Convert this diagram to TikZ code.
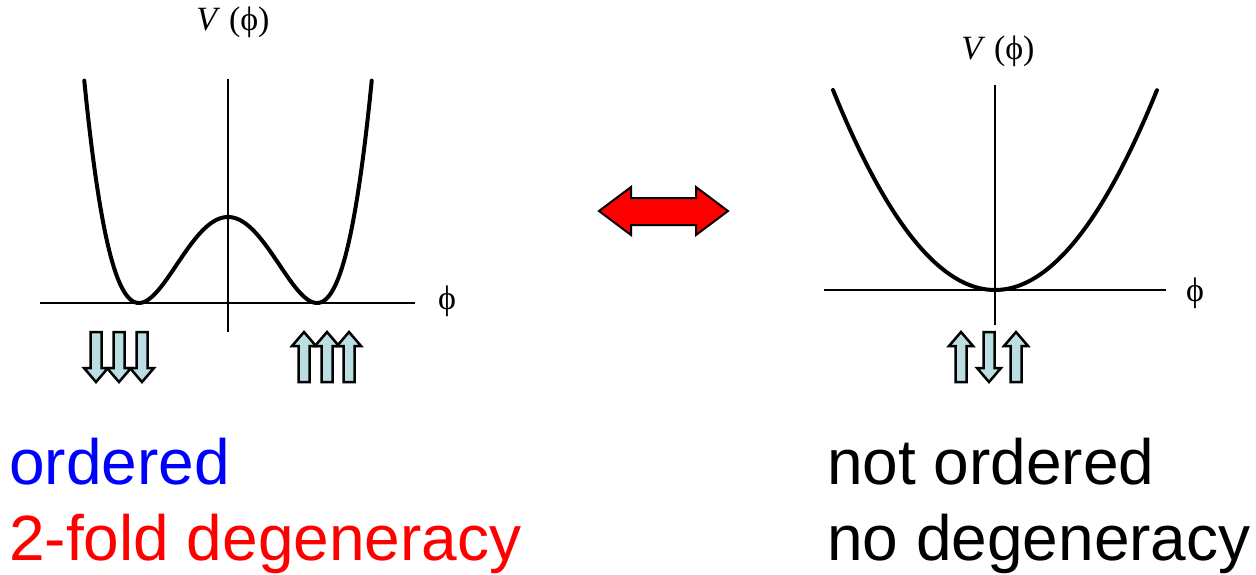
\documentclass[tikz,border=0pt]{standalone}
\usepackage{fontspec}
\setmainfont{Liberation Sans}
\newfontfamily\timesf{Liberation Serif}
\definecolor{spinfill}{RGB}{186,222,226}
\definecolor{pureblue}{RGB}{0,0,255}
\definecolor{purered}{RGB}{255,0,0}
\tikzset{
  axis/.style={line width=2.2pt, black},
  curve/.style={line width=4pt, black, line join=round, line cap=round},
  spin/.style={line width=2.5pt, draw=black, fill=spinfill},
  bigtext/.style={font=\fontsize{64}{64}\selectfont, inner sep=0pt, anchor=base west},
  vlabel/.style={font=\timesf\fontsize{34}{34}\selectfont, inner sep=0pt},
  philabel/.style={font=\timesf\fontsize{34}{34}\selectfont, inner sep=0pt},
  spinup/.pic={\draw[spin] (-5.5,25) -- (-5.5,-11) -- (-12,-11) -- (0,-25) -- (12,-11) -- (5.5,-11) -- (5.5,25) -- cycle;},
  spindown/.pic={\draw[spin] (-5.5,-25) -- (-5.5,11) -- (-12,11) -- (0,25) -- (12,11) -- (5.5,11) -- (5.5,-25) -- cycle;}
}
\begin{document}
\begin{tikzpicture}[x=1pt,y=-1pt]
\useasboundingbox (0,0) rectangle (1256,574);
% left plot
\coordinate (lvt) at (228,79);
\coordinate (lvb) at (228,332);
\coordinate (lhl) at (40,303);
\coordinate (lhr) at (415,303);
\draw[axis] (lvt) -- (lvb);
\draw[axis] (lhl) -- (lhr);
\draw[curve] plot[domain=-1.615:1.615, samples=121, smooth] ({228+89*\x},{303-86*(\x*\x-1)^2});
\node[vlabel] (lV) at (233,22) {\textit{V} (ϕ)};
\node[philabel] (lphi) at (447,301) {ϕ};
% right plot
\coordinate (rvt) at (995,85);
\coordinate (rvb) at (995,325);
\coordinate (rhl) at (824,290);
\coordinate (rhr) at (1166,290);
\draw[axis] (rvt) -- (rvb);
\draw[axis] (rhl) -- (rhr);
\draw[curve] plot[domain=-1:1, samples=81, smooth] ({995+162*\x},{290-200*\x*\x});
\node[vlabel] (rV) at (998,51) {\textit{V} (ϕ)};
\node[philabel] (rphi) at (1195,293) {ϕ};
% spins
\pic at (96,357) {spindown};
\pic at (119,357) {spindown};
\pic at (142,357) {spindown};
\pic at (304,357) {spinup};
\pic at (327,357) {spinup};
\pic at (349,357) {spinup};
\pic at (961,357) {spinup};
\pic at (989,357) {spindown};
\pic at (1016,357) {spinup};
% red double arrow
\draw[line width=2pt, fill=purered, line join=miter]
  (599,211) -- (631,187) -- (631,198) -- (696,198) -- (696,187) -- (728,211)
  -- (696,235) -- (696,225) -- (631,225) -- (631,235) -- cycle;
% texts
\node[bigtext, text=pureblue] (t1) at (9,484) {ordered};
\node[bigtext, text=purered] (t2) at (9,560) {2-fold degeneracy};
\node[bigtext] (t3) at (827,484) {not ordered};
\node[bigtext] (t4) at (827,560) {no degeneracy};
\end{tikzpicture}
\end{document}
